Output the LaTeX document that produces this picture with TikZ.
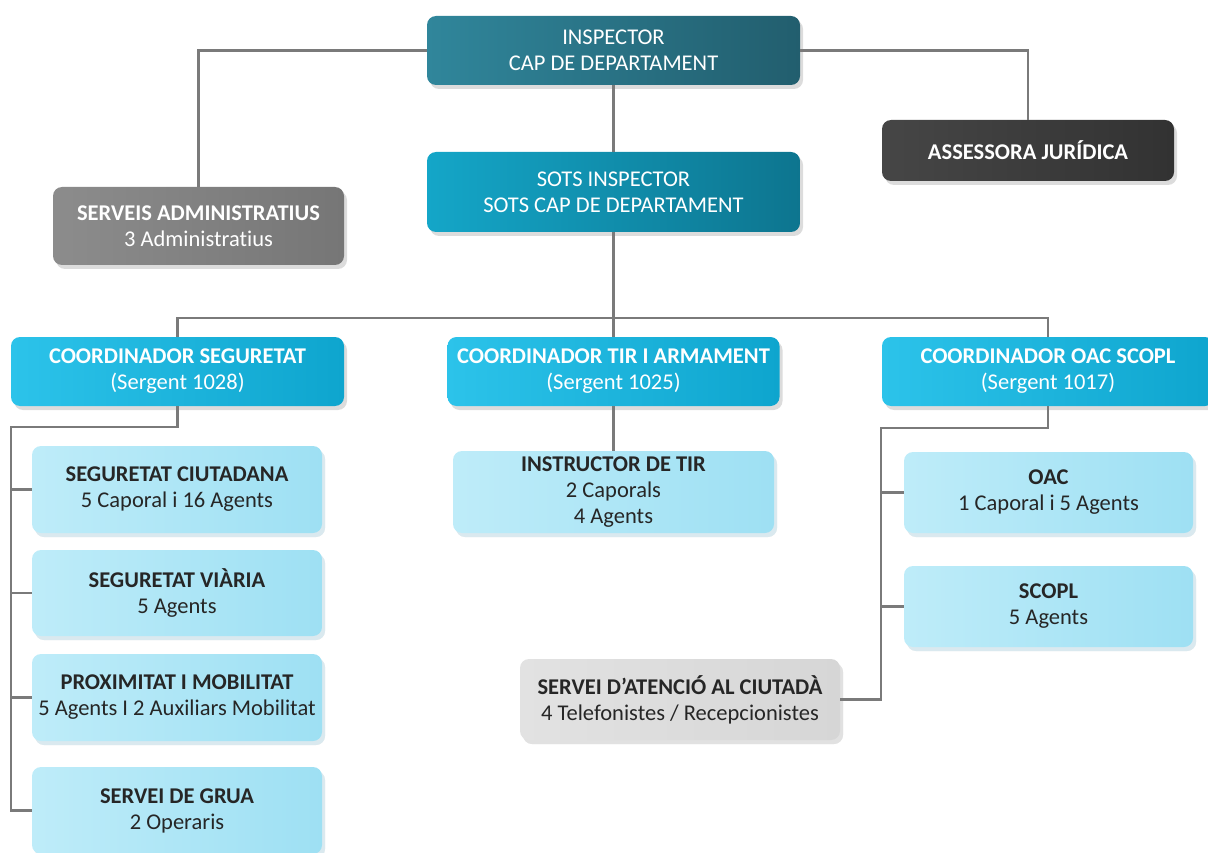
\documentclass[tikz,border=0pt]{standalone}
\usepackage{fontspec}
\setmainfont{Carlito}[Ligatures={NoCommon}]
\usetikzlibrary{shadows}
\definecolor{lineg}{HTML}{7A7A7A}
\definecolor{txtd}{HTML}{262626}
\begin{document}
\begin{tikzpicture}[x=1pt,y=-1pt,
  base/.style={rounded corners=9pt, inner sep=0pt, align=center,
    font=\fontsize{22.5}{26}\selectfont,
    drop shadow={shadow xshift=3pt,shadow yshift=-4pt,fill=black!30,opacity=0.45}},
  sz/.style 2 args={minimum width=#1pt, minimum height=#2pt},
  insbox/.style={base, left color={rgb,255:red,48;green,134;blue,155}, right color={rgb,255:red,34;green,94;blue,110}, text=white},
  sotsbox/.style={base, left color={rgb,255:red,20;green,166;blue,200}, right color={rgb,255:red,13;green,117;blue,143}, text=white},
  coordbox/.style={base, left color={rgb,255:red,44;green,195;blue,234}, right color={rgb,255:red,14;green,165;blue,206}, text=white},
  lightbox/.style={base, left color={rgb,255:red,190;green,236;blue,249}, right color={rgb,255:red,158;green,224;blue,243}, text=txtd,
    drop shadow={shadow xshift=3pt,shadow yshift=-4pt,fill=cyan!15,opacity=0.6}},
  greybox/.style={base, left color={rgb,255:red,140;green,140;blue,140}, right color={rgb,255:red,118;green,118;blue,118}, text=white},
  darkbox/.style={base, left color={rgb,255:red,70;green,70;blue,70}, right color={rgb,255:red,50;green,50;blue,50}, text=white},
  paleg/.style={base, left color={rgb,255:red,226;green,226;blue,226}, right color={rgb,255:red,214;green,214;blue,214}, text=txtd,
    drop shadow={shadow xshift=3pt,shadow yshift=-4pt,fill=black!10,opacity=0.6}},
  conn/.style={draw=lineg, line width=2.4pt}
]
\useasboundingbox (0,0) rectangle (1208,853);

% nodes
\node[insbox, sz={373}{69}] (insp) at (613.5,50.5) {INSPECTOR\\CAP DE DEPARTAMENT};
\node[sotsbox, sz={373}{80}] (sots) at (613.5,192) {SOTS INSPECTOR\\SOTS CAP DE DEPARTAMENT};
\node[darkbox, sz={292}{61}] (asse) at (1028,150.5) {\textbf{ASSESSORA JURÍDICA}};
\node[greybox, sz={291}{78}] (serv) at (198.5,226) {\textbf{SERVEIS ADMINISTRATIUS}\\3 Administratius};

\node[coordbox, sz={333}{69}] (cs) at (177.5,371.5) {\textbf{COORDINADOR SEGURETAT}\\(Sergent 1028)};
\node[coordbox, sz={332}{69}] (ct) at (613.5,371.5) {\textbf{COORDINADOR TIR I ARMAMENT}\\(Sergent 1025)};
\node[coordbox, sz={332}{69}] (co) at (1048,371.5) {\textbf{COORDINADOR OAC SCOPL}\\(Sergent 1017)};

\node[lightbox, sz={290}{87}] (sc1) at (177,489.5) {\textbf{SEGURETAT CIUTADANA}\\5 Caporal i 16 Agents};
\node[lightbox, sz={290}{86}] (sc2) at (177,593) {\textbf{SEGURETAT VIÀRIA}\\5 Agents};
\node[lightbox, sz={290}{87}] (sc3) at (177,697.5) {\textbf{PROXIMITAT I MOBILITAT}\\5 Agents I 2 Auxiliars Mobilitat};
\node[lightbox, sz={290}{87}] (sc4) at (177,810.5) {\textbf{SERVEI DE GRUA}\\2 Operaris};

\node[lightbox, sz={321}{82}] (it) at (613.5,492) {\textbf{INSTRUCTOR DE TIR}\\2 Caporals\\4 Agents};

\node[lightbox, sz={289}{81}] (oac) at (1048.5,492.5) {\textbf{OAC}\\1 Caporal i 5 Agents};
\node[lightbox, sz={289}{81}] (scopl) at (1048.5,606.5) {\textbf{SCOPL}\\5 Agents};
\node[paleg, sz={320}{81}] (sac) at (680,699.5) {\textbf{SERVEI D’ATENCIÓ AL CIUTADÀ}\\4 Telefonistes / Recepcionistes};

% connectors
\coordinate (bus) at (613.5,318);
\coordinate (lt) at (11,427);
\coordinate (rt) at (881,428);

\draw[conn] (insp.west) -| (serv.north);
\draw[conn] (insp.east) -| (asse.north);
\draw[conn] (insp.south) -- (sots.north);
\draw[conn] (sots.south) -- (bus);
\draw[conn] (cs.north) |- (bus) -| (co.north);
\draw[conn] (bus) -- (ct.north);

\draw[conn] (cs.south) |- (lt) |- (sc4.west);
\draw[conn] (sc1.west) -- (sc1.west -| lt);
\draw[conn] (sc2.west) -- (sc2.west -| lt);
\draw[conn] (sc3.west) -- (sc3.west -| lt);

\draw[conn] (ct.south) -- (it.north);

\draw[conn] (co.south) |- (rt) |- (sac.east);
\draw[conn] (oac.west) -- (oac.west -| rt);
\draw[conn] (scopl.west) -- (scopl.west -| rt);
\end{tikzpicture}
\end{document}
